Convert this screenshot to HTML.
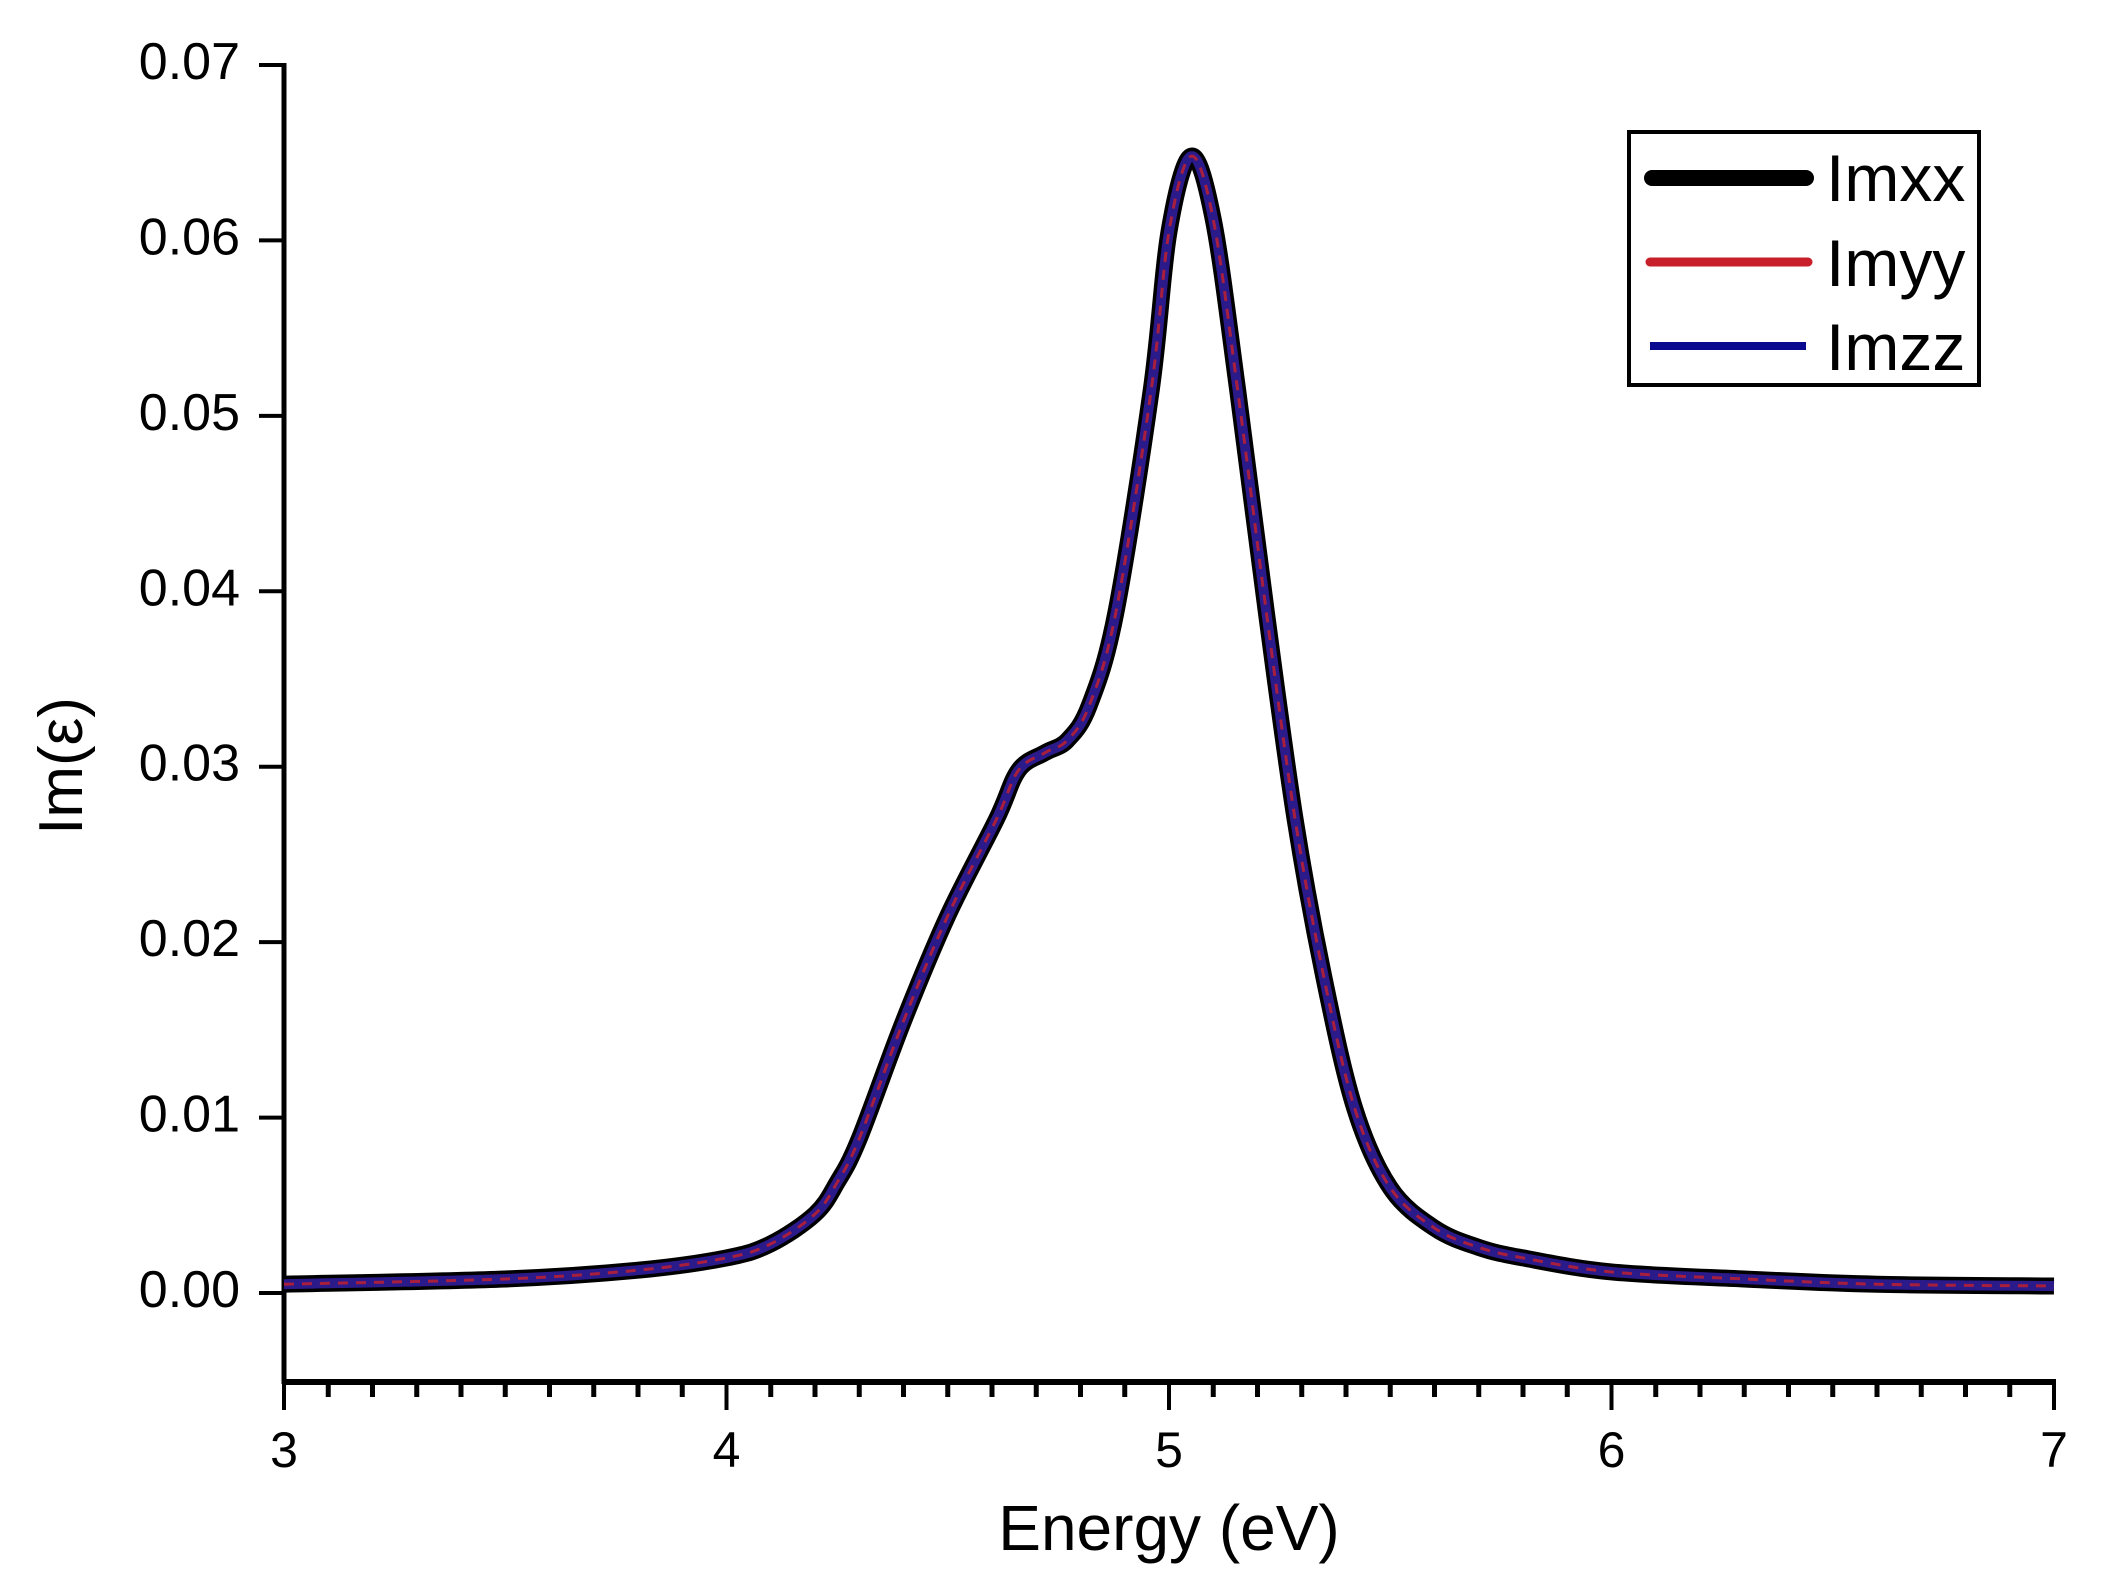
<!DOCTYPE html>
<html><head><meta charset="utf-8"><style>
html,body{margin:0;padding:0;background:#fff;}
svg{display:block;font-family:"Liberation Sans",sans-serif;}
</style></head><body>
<svg id="chart" width="2104" height="1596" viewBox="0 0 2104 1596" xmlns="http://www.w3.org/2000/svg">
<g id="axes"></g>
<g id="series"></g>
<g id="legend">
  <rect x="1629" y="132" width="350" height="253" fill="#fff" stroke="#000" stroke-width="4"/>
  <line x1="1652" y1="178" x2="1806" y2="178" stroke="#000" stroke-width="16" stroke-linecap="round"/>
  <text x="1826" y="201" font-size="66">Imxx</text>
  <line x1="1650" y1="262" x2="1808" y2="262" stroke="#c8202a" stroke-width="9" stroke-linecap="round"/>
  <text x="1826" y="286" font-size="66">Imyy</text>
  <line x1="1650" y1="346" x2="1806" y2="346" stroke="#0a0a90" stroke-width="8"/>
  <text x="1826" y="370" font-size="66">Imzz</text>
</g>
</svg>
<script>
const energy = [3,3.5,3.8,4,4.1,4.2,4.25,4.3,4.4,4.5,4.61,4.66,4.72,4.77,4.82,4.88,4.96,5.0,5.05,5.1,5.155,5.22,5.285,5.35,5.42,5.5,5.6,5.7,5.8,6,6.3,6.6,7];
const imValues = [0.0005,0.0008,0.0013,0.002,0.0028,0.0045,0.0063,0.0088,0.0155,0.0215,0.027,0.0298,0.0308,0.0315,0.0335,0.0388,0.0515,0.0605,0.0648,0.0612,0.0515,0.0388,0.027,0.018,0.0105,0.006,0.0037,0.0026,0.002,0.0012,0.0008,0.0005,0.0004];
const xTicks = [3,4,5,6,7];
const yTicks = ["0.00","0.01","0.02","0.03","0.04","0.05","0.06","0.07"];

const NS = "http://www.w3.org/2000/svg";
const X0=284, X1=2054, Y0=1293, Y7=65, AXB=1382;
const xs = v => X0 + (v-3)/4*(X1-X0);
const ys = v => Y0 - v/0.07*(Y0-Y7);
function mk(tag, attrs, parent){const e=document.createElementNS(NS,tag);for(const k in attrs)e.setAttribute(k,attrs[k]);parent.appendChild(e);return e;}
const axes=document.getElementById('axes');
let l=mk('line',{x1:X0,y1:Y7-2,x2:X0,y2:AXB+2,stroke:'#000','stroke-width':5},axes);


l=mk('line',{x1:X0-2,y1:AXB,x2:X1+2,y2:AXB,stroke:'#000','stroke-width':6},axes);


yTicks.forEach(t=>{
  const y=ys(parseFloat(t));
  const tk=mk('line',{x1:X0-25,y1:y,x2:X0,y2:y,stroke:'#000','stroke-width':4},axes);
  
  
  const tx=mk('text',{x:X0-44,y:y+14,'font-size':52,'text-anchor':'end'},axes);
  tx.textContent=t;
  
  
});
for(let i=0;i<=40;i++){
  const v=3+i*0.1, x=xs(v), major=(i%10===0);
  const tk=mk('line',{x1:x,y1:AXB,x2:x,y2:AXB+(major?28:15),stroke:'#000','stroke-width':major?4:5},axes);
  
  
}
xTicks.forEach(t=>{
  const tx=mk('text',{x:xs(t),y:1467,'font-size':50,'text-anchor':'middle'},axes);
  tx.textContent=String(t);
  
  
});
let tt=mk('text',{x:(X0+X1)/2,y:1550,'font-size':64,'text-anchor':'middle'},axes);
tt.textContent='Energy (eV)';


tt=mk('text',{x:0,y:0,'font-size':62,'text-anchor':'middle',transform:'translate(82,766) rotate(-90)'},axes);
tt.textContent='Im(ε)';



function pathD(){
  const p=energy.map((e,i)=>[xs(e),ys(imValues[i])]);
  let d=`M${p[0][0]},${p[0][1]}`;
  for(let i=0;i<p.length-1;i++){
    const a=p[Math.max(0,i-1)],b=p[i],c=p[i+1],e=p[Math.min(p.length-1,i+2)];
    const c1=[b[0]+(c[0]-a[0])/6,b[1]+(c[1]-a[1])/6],c2=[c[0]-(e[0]-b[0])/6,c[1]-(e[1]-b[1])/6];
    d+=` C${c1[0]},${c1[1]} ${c2[0]},${c2[1]} ${c[0]},${c[1]}`;
  }
  return d;
}
const d=pathD();
const ser=document.getElementById('series');
let s=mk('path',{d:d,fill:'none',stroke:'#000','stroke-width':17,'stroke-linejoin':'round'},ser);


s=mk('path',{d:d,fill:'none',stroke:'#2a1a8a','stroke-width':10,'stroke-linejoin':'round'},ser);


s=mk('path',{d:d,fill:'none',stroke:'#c8202a','stroke-width':3,'stroke-dasharray':'10 8','stroke-opacity':0.8},ser);


</script>
</body></html>
